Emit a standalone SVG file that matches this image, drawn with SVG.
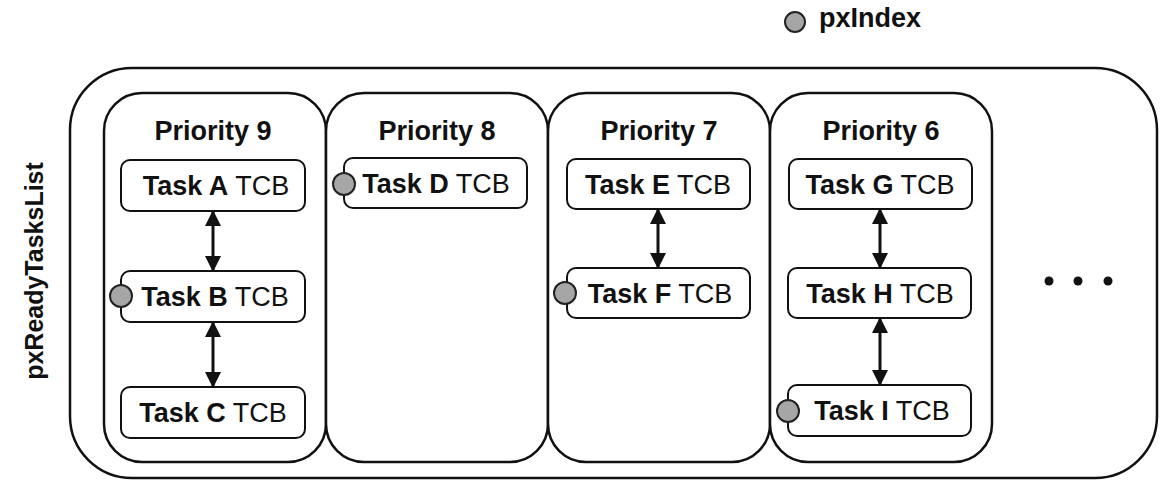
<svg xmlns="http://www.w3.org/2000/svg" width="1163" height="495" viewBox="0 0 1163 495">
<style>
.outer{fill:#fff;stroke:#111;stroke-width:2.5}
.col{fill:#fff;stroke:#111;stroke-width:2.5}
.box{fill:#fff;stroke:#111;stroke-width:2}
.ptr{fill:#a6a6a6;stroke:#222;stroke-width:2}
.lbl{font-family:"Liberation Sans",Arial,sans-serif;font-size:27px;fill:#111;text-anchor:middle}
.b{font-weight:bold}
.link{stroke:#111;stroke-width:3;fill:none;marker-start:url(#ah);marker-end:url(#ah)}
</style>
<defs>
<marker id="ah" markerUnits="userSpaceOnUse" viewBox="0 0 16 16" refX="15" refY="8" markerWidth="16" markerHeight="16" orient="auto-start-reverse">
<path d="M0,0 L16,8 L0,16 Z" fill="#111"/>
</marker>
</defs>
<rect width="1163" height="495" fill="#fff"/>
<g id="legend">
<circle class="ptr" cx="795" cy="22" r="10"/>
<text class="lbl b" x="819" y="27" style="text-anchor:start">pxIndex</text>
</g>
<g id="pxReadyTasksList">
<rect class="outer" x="70" y="68" width="1087" height="410" rx="62"/>
<text class="lbl b" transform="translate(43,271) rotate(-90)" style="font-size:25px">pxReadyTasksList</text>
</g>
<g id="priority9">
<rect class="col" x="104" y="93" width="222" height="369" rx="38"/>
<text class="lbl b" x="213" y="140">Priority 9</text>
</g>
<g id="priority8">
<rect class="col" x="326" y="93" width="222" height="369" rx="38"/>
<text class="lbl b" x="437" y="140">Priority 8</text>
</g>
<g id="priority7">
<rect class="col" x="548" y="93" width="222" height="369" rx="38"/>
<text class="lbl b" x="659" y="140">Priority 7</text>
</g>
<g id="priority6">
<rect class="col" x="770" y="93" width="222" height="369" rx="38"/>
<text class="lbl b" x="881" y="140">Priority 6</text>
</g>
<g id="taskA">
<rect class="box" x="121" y="160" width="184" height="51" rx="9"/>
<text class="lbl" x="216" y="195"><tspan class="b">Task A</tspan> TCB</text>
</g>
<g id="taskB">
<rect class="box" x="121" y="271" width="184" height="51" rx="9"/>
<text class="lbl" x="215" y="306"><tspan class="b">Task B</tspan> TCB</text>
<circle class="ptr" cx="121" cy="296" r="11"/>
</g>
<g id="taskC">
<rect class="box" x="121" y="387" width="184" height="51" rx="9"/>
<text class="lbl" x="213" y="422"><tspan class="b">Task C</tspan> TCB</text>
</g>
<g id="taskD">
<rect class="box" x="344" y="158" width="183" height="50" rx="9"/>
<text class="lbl" x="436" y="193"><tspan class="b">Task D</tspan> TCB</text>
<circle class="ptr" cx="344" cy="184" r="11"/>
</g>
<g id="taskE">
<rect class="box" x="567" y="159" width="183" height="50" rx="9"/>
<text class="lbl" x="658" y="194"><tspan class="b">Task E</tspan> TCB</text>
</g>
<g id="taskF">
<rect class="box" x="567" y="268" width="183" height="50" rx="9"/>
<text class="lbl" x="660" y="303"><tspan class="b">Task F</tspan> TCB</text>
<circle class="ptr" cx="565" cy="293" r="11"/>
</g>
<g id="taskG">
<rect class="box" x="789" y="159" width="183" height="50" rx="9"/>
<text class="lbl" x="880" y="194"><tspan class="b">Task G</tspan> TCB</text>
</g>
<g id="taskH">
<rect class="box" x="788" y="268" width="183" height="50" rx="9"/>
<text class="lbl" x="880" y="303"><tspan class="b">Task H</tspan> TCB</text>
</g>
<g id="taskI">
<rect class="box" x="788" y="385" width="183" height="51" rx="9"/>
<text class="lbl" x="882" y="420"><tspan class="b">Task I</tspan> TCB</text>
<circle class="ptr" cx="788" cy="411" r="11"/>
</g>
<g id="connectors">
<line class="link" x1="213" y1="211" x2="213" y2="271"/>
<line class="link" x1="213" y1="322" x2="213" y2="387"/>
<line class="link" x1="658" y1="209" x2="658" y2="268"/>
<line class="link" x1="880" y1="209" x2="880" y2="268"/>
<line class="link" x1="880" y1="318" x2="880" y2="385"/>
</g>
<g id="ellipsis" fill="#111">
<circle cx="1049" cy="281" r="4.5"/>
<circle cx="1078" cy="281" r="4.5"/>
<circle cx="1108" cy="281" r="4.5"/>
</g>
</svg>
